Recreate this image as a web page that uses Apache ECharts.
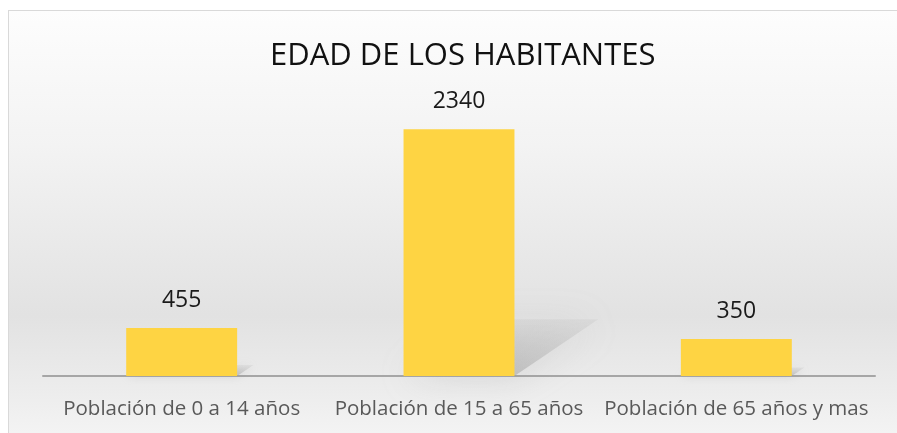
<!DOCTYPE html>
<html>
<head>
<meta charset="utf-8">
<script src="https://cdn.jsdelivr.net/npm/echarts@6/dist/echarts.min.js"></script>
<style>
  html, body { margin: 0; padding: 0; background: #ffffff; overflow: hidden; }
  #frame {
    position: absolute; left: 8px; top: 10px; width: 920px; height: 450px;
    border: 1px solid #d9d9d9; box-sizing: border-box;
    background: linear-gradient(to bottom, #fdfdfd 0%, #f3f3f3 30%, #e2e2e2 68%, #ececec 84%, #f7f7f7 100%);
  }
  #chart { position: absolute; left: 0; top: 0; width: 897px; height: 433px; }
</style>
</head>
<body>
<div id="frame"></div>
<div id="chart"></div>
<script>
// Age groups of the inhabitants
const categories = ['Población de 0 a 14 años', 'Población de 15 a 65 años', 'Población de 65 años y mas'];
const habitantes = [455, 2340, 350];
const chartTitle = 'EDAD DE LOS HABITANTES';

const chart = echarts.init(document.getElementById('chart'));

// Soft cast shadow behind each bar, skewed back and to the right
function renderShadow(params, api) {
  const base = api.coord([api.value(0), 0]);
  const top = api.coord([api.value(0), api.value(1)]);
  const size = api.size([1, 0]);
  const w = size[0] * 0.4;
  const h = base[1] - top[1];
  const dx = h * 0.34, dy = h * 0.23;
  const x0 = base[0] - w / 2, x1 = base[0] + w / 2, y0 = base[1];
  return {
    type: 'polygon',
    shape: { points: [[x0, y0], [x1, y0], [x1 + dx, y0 - dy], [x0 + dx, y0 - dy]] },
    style: {
      fill: new echarts.graphic.LinearGradient(0, 1, 0, 0, [
        { offset: 0, color: 'rgba(150,150,150,0.45)' },
        { offset: 1, color: 'rgba(170,170,170,0.15)' }
      ]),
      shadowBlur: Math.max(8, h * 0.14),
      shadowColor: 'rgba(150,150,150,0.55)'
    }
  };
}

chart.setOption({
  animation: false,
  title: {
    text: chartTitle,
    left: 265,
    top: 36,
    textStyle: { fontFamily: 'Open Sans', fontSize: 31, fontWeight: 'normal', color: '#111111' }
  },
  grid: { left: 43, right: 22, top: 112.5, bottom: 57 },
  xAxis: {
    type: 'category',
    data: categories,
    axisLine: { lineStyle: { color: '#a6a6a6', width: 2 } },
    axisTick: { show: false },
    axisLabel: {
      interval: 0, hideOverlap: false,
      fontFamily: 'Open Sans', fontSize: 20.5, color: '#595959', margin: 23
    }
  },
  yAxis: {
    type: 'value', min: 0, max: 2500, show: false,
    splitLine: { show: false }
  },
  series: [
    {
      type: 'custom',
      data: habitantes.map((v, i) => [i, v]),
      renderItem: renderShadow,
      z: 1,
      silent: true
    },
    {
      type: 'bar',
      data: habitantes,
      barWidth: '40%',
      z: 2,
      itemStyle: { color: '#FED443' },
      label: {
        show: true, position: 'top', distance: 16,
        fontFamily: 'Open Sans', fontSize: 23, color: '#1a1a1a'
      }
    }
  ]
});
</script>
</body>
</html>
